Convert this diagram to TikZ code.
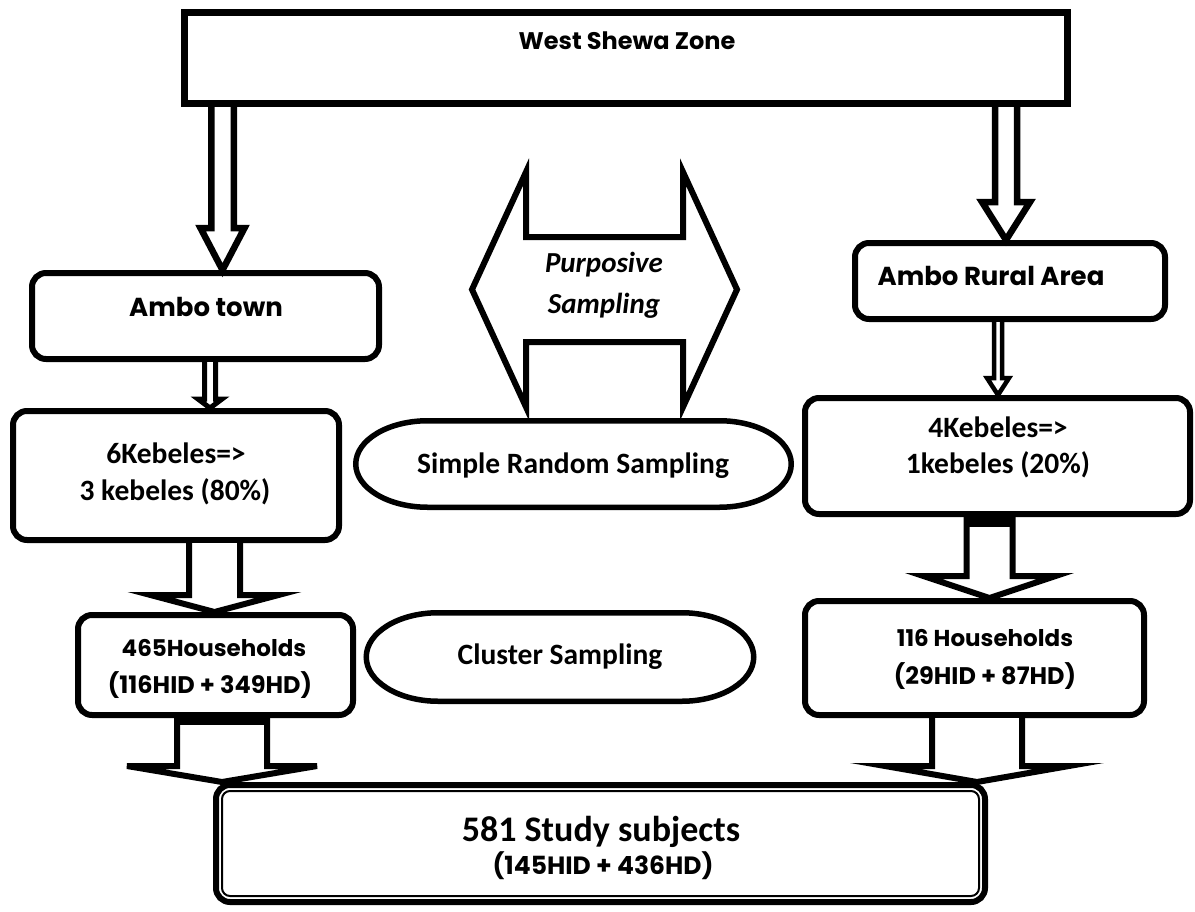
\documentclass[tikz,border=0pt]{standalone}
\usepackage{fontspec}
\newfontfamily\berlin{Poppins}
\newfontfamily\calib{Carlito}
\usetikzlibrary{calc}
\tikzset{
  box/.style={draw, line width=6pt, rounded corners=14pt, inner sep=0pt, fill=white},
  plain/.style={inner sep=0pt, outer sep=0pt},
  tb/.style={font=\berlin\bfseries\fontsize{#1pt}{#1pt}\selectfont, inner sep=0pt, anchor=base},
  tc/.style={font=\calib\bfseries\fontsize{#1pt}{#1pt}\selectfont, inner sep=0pt, anchor=base},
  ti/.style={font=\calib\bfseries\itshape\fontsize{#1pt}{#1pt}\selectfont, inner sep=0pt, anchor=base},
  arrline/.style={draw=black, fill=white, line join=miter, miter limit=12},
}
% block arrow: #1 source node, #2 tip, #3 shaft half width, #4 head half width, #5 head length, #6 line width
\newcommand\blockarr[6]{%
  \draw[arrline, line width=#6pt] let \p1=(#2), \p2=(#1.south) in
    ({\x1-#3pt},\y2) -- ({\x1-#3pt},{\y1+#5pt}) -- ({\x1-#4pt},{\y1+#5pt}) -- (\x1,\y1)
    -- ({\x1+#4pt},{\y1+#5pt}) -- ({\x1+#3pt},{\y1+#5pt}) -- ({\x1+#3pt},\y2);}
% stadium outline round a node: #1 node, #2 x radius, #3 y radius
\newcommand\stadium[3]{%
  \draw[line width=5.5pt] ([xshift=#2pt]#1.north west) -- ([xshift=-#2pt]#1.north east)
    arc[start angle=90, end angle=-90, x radius=#2pt, y radius=#3pt]
    -- ([xshift=#2pt]#1.south west)
    arc[start angle=270, end angle=90, x radius=#2pt, y radius=#3pt] -- cycle;}
\begin{document}
\begin{tikzpicture}[x=1pt, y=-1pt]
\useasboundingbox[fill=white] (0,0) rectangle (1195,911);

% boxes
\node[box, rounded corners=0pt, line width=7pt, minimum width=883pt, minimum height=91pt] (ws) at (626,58) {};
\node[box, minimum width=347pt, minimum height=86pt] (ambo) at (205.5,316) {};
\node[box, minimum width=310pt, minimum height=76pt] (rural) at (1010,281) {};
\node[box, minimum width=326pt, minimum height=129pt] (keb6) at (176,475.5) {};
\node[box, minimum width=385pt, minimum height=116pt] (keb4) at (997.5,456) {};
\node[box, minimum width=275pt, minimum height=100pt] (hh465) at (215.5,665) {};
\node[box, minimum width=339pt, minimum height=114pt] (hh116) at (974.5,658) {};
\node[box, minimum width=769pt, minimum height=117pt] (fin) at (600.5,843.5) {};
\draw[line width=2pt, rounded corners=8pt] ($(fin.north west)+(9pt,-9pt)$) rectangle ($(fin.south east)+(-9pt,9pt)$);

% stadiums
\node[plain, minimum width=435.5pt, minimum height=86.5pt] (srs) at (573.5,464) {};
\stadium{srs}{72}{43.25}
\node[plain, minimum width=387.5pt, minimum height=88.5pt] (clus) at (560,657) {};
\stadium{clus}{72}{44.25}

% purposive double arrow
\draw[line width=6pt, line join=miter] (472,289.5) -- (526,172) -- (526,237) -- (683,237) -- (683,172)
  -- (737,289.5) -- (683,407) -- (683,342) -- (526,342) -- (526,407) -- cycle;

% arrows
\blockarr{ws}{[xshift=17pt]ambo.north}{11.25}{22}{42}{6.5}
\blockarr{ws}{[xshift=-4pt]rural.north}{11}{24}{38}{6.5}
\blockarr{ambo}{[xshift=34pt]keb6.north}{5.5}{12}{9}{5}
\blockarr{rural}{[xshift=0.5pt]keb4.north}{4}{11}{17}{4.5}
\blockarr{keb6}{[xshift=-1pt]hh465.north}{25.5}{64}{17}{6}
\blockarr{keb4}{[xshift=15pt]hh116.north}{23}{66}{22}{6}
\coordinate (tipL) at ($(hh465.south |- fin.north)+(6.5pt,0)$);
\coordinate (tipR) at ($(hh116.south |- fin.north)+(2.5pt,0)$);
\blockarr{hh465}{tipL}{45}{95}{16}{6}
\blockarr{hh116}{tipR}{45}{92}{16}{6}
% dark bars at the top of two shafts
\fill let \p1=([xshift=15pt]hh116.north), \p2=(keb4.south) in ({\x1-23pt},\y2) rectangle ({\x1+23pt},{\y2-10pt});
\fill let \p1=(tipL), \p2=(hh465.south) in ({\x1-45pt},\y2) rectangle ({\x1+45pt},{\y2-7pt});

% texts
\node[tb=24] (wst) at (627,49) {West Shewa Zone};
\node[tb=26] (ambot) at (206,316) {Ambo town};
\node[tb=26] (ruralt) at (991,285) {Ambo Rural Area};
\node[tc=29.5] (keb6a) at (176,463) {6Kebeles=>};
\node[tc=29.5] (keb6b) at (175,500) {3 kebeles (80\%)};
\node[tc=29.5] (keb4a) at (998,437) {4Kebeles=>};
\node[tc=29.5] (keb4b) at (998,473) {1kebeles (20\%)};
\node[ti=29] (purpa) at (604,272) {Purposive};
\node[ti=29] (purpb) at (604,313) {Sampling};
\node[tc=29.5] (srst) at (573,473) {Simple Random Sampling};
\node[tc=29.5] (clust) at (560,664) {Cluster Sampling};
\node[tb=23] (hh465a) at (214,656) {465Households};
\node[tb=24] (hh465b) at (210,693) {(116HID + 349HD)};
\node[tb=23] (hh116a) at (985,646) {116 Households};
\node[tb=24] (hh116b) at (985,684) {(29HID + 87HD)};
\node[tc=36] (fina) at (601,841) {581 Study subjects};
\node[tb=25] (finb) at (603,874) {(145HID + 436HD)};
\end{tikzpicture}
\end{document}
